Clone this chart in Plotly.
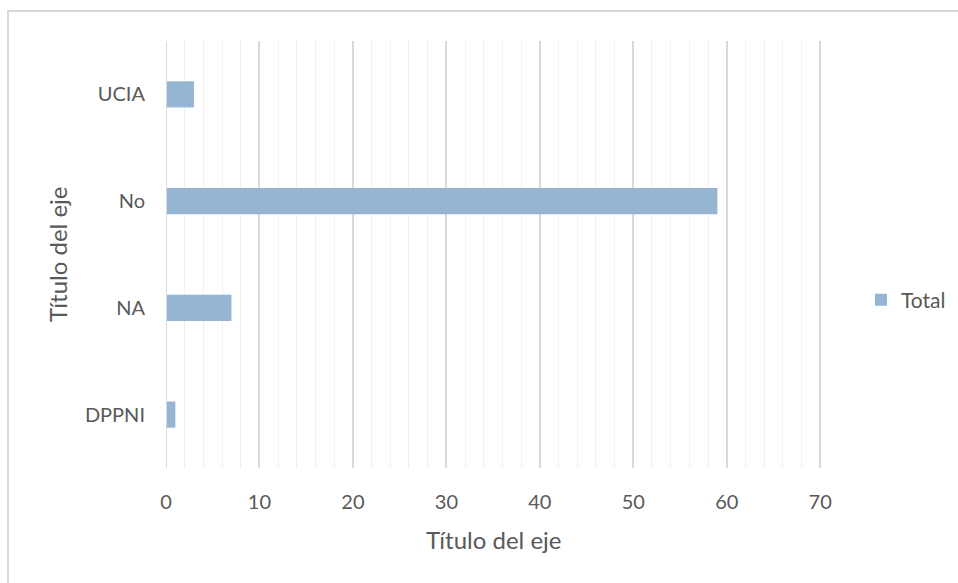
import plotly.graph_objects as go

categories = ["DPPNI", "NA", "No", "UCIA"]
values = [1, 7, 59, 3]
series_name = "Total"
x_ticks = [0, 10, 20, 30, 40, 50, 60, 70]
axis_title = "Título del eje"

L, R, T, B = 166, 135, 41, 115
W, H = 958, 583
pw, ph = W - L - R, H - T - B

def px_x(p):
    return (p - L) / pw

def px_y(p):
    return (H - B - p) / ph

fig = go.Figure()
fig.add_trace(go.Bar(
    x=values, y=categories, orientation="h", name=series_name,
    marker=dict(color="#95b5d3", line=dict(width=0)), width=0.245,
    showlegend=True,
))

font_fam = "Lato, Open Sans, sans-serif"
txt = "#595959"
fig.update_layout(
    width=W, height=H,
    margin=dict(l=L, r=R, t=T, b=B, autoexpand=False),
    paper_bgcolor="white", plot_bgcolor="white",
    font=dict(family=font_fam, color=txt, size=20),
    xaxis=dict(
        range=[0, 70.3], tickvals=x_ticks, showgrid=True, gridcolor="#d9d9d9", gridwidth=1.5,
        minor=dict(dtick=2, showgrid=True, gridcolor="#f0f0f0", gridwidth=1),
        zeroline=False, showline=False, ticks="", ticklen=0,
        ticklabelstandoff=20,
        tickfont=dict(size=20, color=txt),
        fixedrange=True,
    ),
    yaxis=dict(
        categoryorder="array", categoryarray=categories,
        showgrid=False, zeroline=False, showline=False, ticks="",
        ticklabelstandoff=20,
        tickfont=dict(size=20, color=txt),
    ),
    legend=dict(x=px_x(861), y=px_y(300), xanchor="left", yanchor="middle",
                font=dict(size=21, color=txt), itemwidth=30, bgcolor="rgba(0,0,0,0)",
                tracegroupgap=0),
    annotations=[
        dict(text=axis_title, xref="paper", yref="paper", x=px_x(493), y=px_y(539),
             showarrow=False, xanchor="center", yanchor="middle",
             font=dict(size=24, color=txt)),
        dict(text=axis_title, xref="paper", yref="paper", x=px_x(57), y=px_y(255),
             showarrow=False, xanchor="center", yanchor="middle", textangle=-90,
             font=dict(size=24, color=txt)),
    ],
    shapes=[
        dict(type="line", xref="x", yref="paper", x0=0, x1=0, y0=0, y1=1,
             line=dict(color="#d9d9d9", width=2), layer="above"),
        dict(type="line", xref="x", yref="paper", x0=x_ticks[-1], x1=x_ticks[-1], y0=0, y1=1,
             line=dict(color="#d9d9d9", width=1.5), layer="below"),
        dict(type="rect", xref="paper", yref="paper",
             x0=px_x(8), x1=px_x(990), y0=px_y(11), y1=px_y(620),
             line=dict(color="#d9d9d9", width=2), layer="below"),
    ],
)
fig.write_html("out.html")
